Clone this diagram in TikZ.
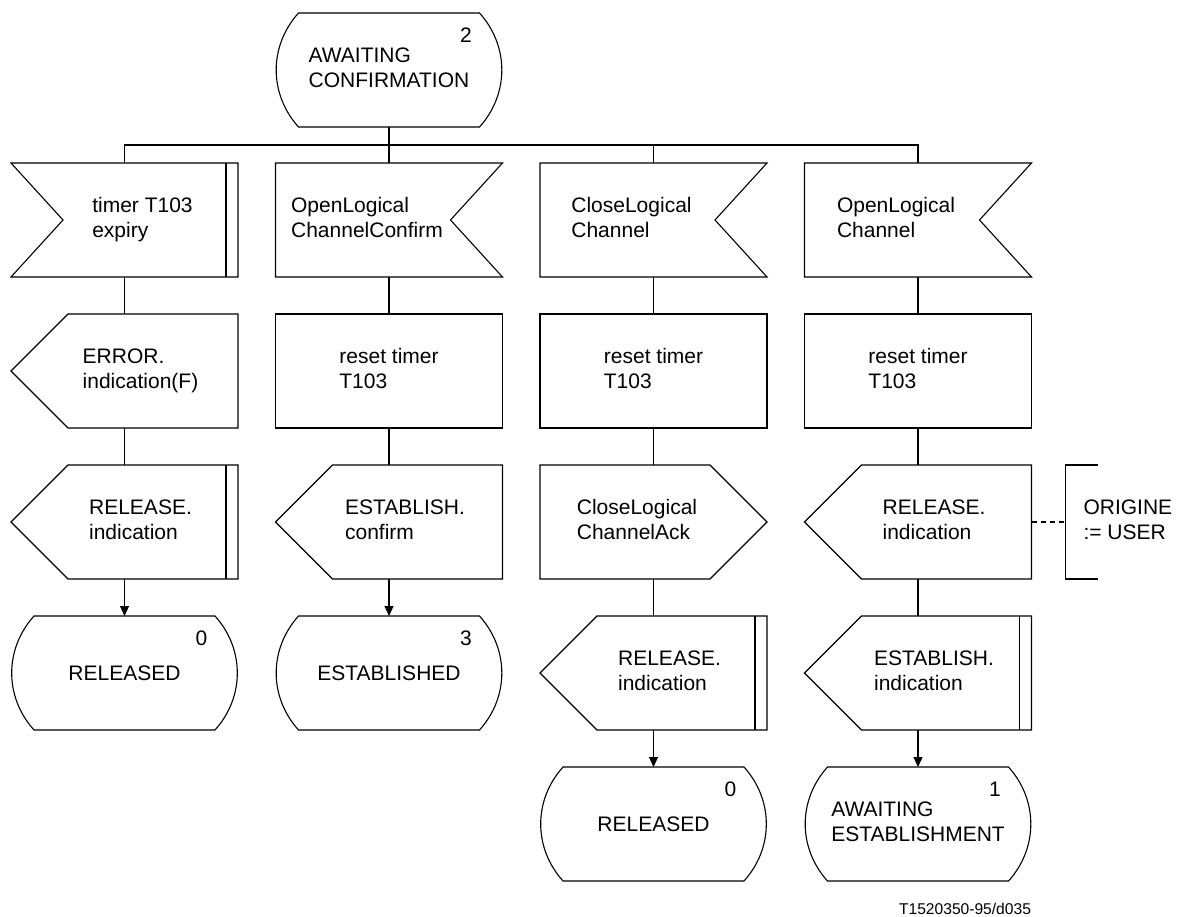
\documentclass[tikz,border=0pt]{standalone}
\usepackage{fontspec}
\setmainfont{Liberation Sans}
\usetikzlibrary{arrows.meta,positioning}

\def\padl{0pt}
\def\padr{0pt}
\newcommand\sdl[1]{\begin{tabular}{@{\hspace{\padl}}l@{\hspace{\padr}}}#1\end{tabular}}

\tikzset{
  box/.style={minimum width=227pt, minimum height=114pt, inner sep=0pt, outer sep=0pt},
  lpad/.code={\def\padl{#1}},
  rpad/.code={\def\padr{#1}},
  task/.style={box, draw},
  inR/.style={box, rpad=44pt, append after command={\pgfextra{
    \draw (\tikzlastnode.north west) -- (\tikzlastnode.north east)
      -- ([xshift=-52pt]\tikzlastnode.east) -- (\tikzlastnode.south east)
      -- (\tikzlastnode.south west) -- cycle;}}},
  inL/.style={box, lpad=36pt, dbl, append after command={\pgfextra{
    \draw (\tikzlastnode.north west) -- (\tikzlastnode.north east)
      -- (\tikzlastnode.south east) -- (\tikzlastnode.south west)
      -- ([xshift=52pt]\tikzlastnode.west) -- cycle;}}},
  outL/.style={box, lpad=32pt, append after command={\pgfextra{
    \draw (\tikzlastnode.west) -- ([xshift=57pt]\tikzlastnode.north west)
      -- (\tikzlastnode.north east) -- (\tikzlastnode.south east)
      -- ([xshift=57pt]\tikzlastnode.south west) -- cycle;}}},
  outR/.style={box, rpad=33pt, append after command={\pgfextra{
    \draw (\tikzlastnode.east) -- ([xshift=-57pt]\tikzlastnode.north east)
      -- (\tikzlastnode.north west) -- (\tikzlastnode.south west)
      -- ([xshift=-57pt]\tikzlastnode.south east) -- cycle;}}},
  dbl/.style={append after command={\pgfextra{
    \draw ([xshift=-12pt]\tikzlastnode.north east)
      -- ([xshift=-12pt]\tikzlastnode.south east);}}},
  state/.style={box, label={[num]center:#1}, append after command={\pgfextra{
    \draw ([xshift=23pt]\tikzlastnode.north west) -- ([xshift=-23pt]\tikzlastnode.north east)
      to[bend left=42] ([xshift=-23pt]\tikzlastnode.south east)
      -- ([xshift=23pt]\tikzlastnode.south west)
      to[bend left=42] ([xshift=23pt]\tikzlastnode.north west) -- cycle;}}},
  num/.style={xshift=77pt, yshift=35pt},
  note/.style={minimum height=114pt, inner xsep=18pt, inner ysep=0pt, outer sep=0pt,
    append after command={\pgfextra{
    \draw ([xshift=32pt]\tikzlastnode.north west) -- (\tikzlastnode.north west)
      -- (\tikzlastnode.south west) -- ([xshift=32pt]\tikzlastnode.south west);}}},
  foot/.style={inner sep=0pt, font=\fontsize{15.6}{18}\selectfont},
  arw/.style={-{Triangle[length=10pt,width=9pt]}},
}

\begin{document}
\begin{tikzpicture}[x=1pt, y=-1pt, line width=1.1pt,
    font=\fontsize{21}{24.5}\selectfont]
  \useasboundingbox (0,0) rectangle (1182,917);

  % Start state
  \node[state=2] (wait) at (389,70) {\sdl{AWAITING\\CONFIRMATION}};
  \coordinate (bus) at ([yshift=-18pt]wait.south);

  % Inputs
  \node[inR, below=36pt of wait] (olcconf) {\sdl{OpenLogical\\ChannelConfirm}};
  \node[inL, left=37.5pt of olcconf] (timeout) {\sdl{timer T103\\expiry}};
  \node[inR, right=37.5pt of olcconf] (clc) {\sdl{CloseLogical\\Channel}};
  \node[inR, right=37.5pt of clc] (olc) {\sdl{OpenLogical\\Channel}};

  % Column 1
  \node[outL, below=37pt of timeout] (err) {\sdl{ERROR.\\indication(F)}};
  \node[outL, dbl, below=37pt of err] (relind) {\sdl{RELEASE.\\indication}};
  \node[state=0, below=37pt of relind] (released) {RELEASED};

  % Column 2
  \node[task, below=37pt of olcconf] (reset2) {\sdl{reset timer\\T103}};
  \node[outL, below=37pt of reset2] (estconf) {\sdl{ESTABLISH.\\confirm}};
  \node[state=3, below=37pt of estconf] (established) {ESTABLISHED};

  % Column 3
  \node[task, below=37pt of clc] (reset3) {\sdl{reset timer\\T103}};
  \node[outR, below=37pt of reset3] (clcack) {\sdl{CloseLogical\\ChannelAck}};
  \node[outL, dbl, below=37pt of clcack] (relind3) {\sdl{RELEASE.\\indication}};
  \node[state=0, below=37pt of relind3] (released3) {RELEASED};

  % Column 4
  \node[task, below=37pt of olc] (reset4) {\sdl{reset timer\\T103}};
  \node[outL, below=37pt of reset4] (relind4) {\sdl{RELEASE.\\indication}};
  \node[note, right=34pt of relind4] (orig) {\sdl{ORIGINE\\:= USER}};
  \node[outL, dbl, below=37pt of relind4] (estind) {\sdl{ESTABLISH.\\indication}};
  \node[state=1, below=37pt of estind] (awaitest) {\sdl{AWAITING\\ESTABLISHMENT}};

  % Branching
  \draw (wait) -- (bus);
  \draw (timeout.north) |- (bus) -| (olc.north);
  \draw (bus) -- (olcconf);
  \draw (clc.north) -- (clc.north |- bus);

  % Flow lines
  \draw (timeout) -- (err);
  \draw (err) -- (relind);
  \draw[arw] (relind) -- (released);
  \draw (olcconf) -- (reset2);
  \draw (reset2) -- (estconf);
  \draw[arw] (estconf) -- (established);
  \draw (clc) -- (reset3);
  \draw (reset3) -- (clcack);
  \draw (clcack) -- (relind3);
  \draw[arw] (relind3) -- (released3);
  \draw (olc) -- (reset4);
  \draw (reset4) -- (relind4);
  \draw (relind4) -- (estind);
  \draw[arw] (estind) -- (awaitest);

  % Comment
  \draw[dashed, dash pattern=on 5pt off 4pt] (relind4) -- (orig);

  \node[foot, anchor=east] (fig) at ([yshift=-28pt]awaitest.south east) {T1520350-95/d035};
\end{tikzpicture}
\end{document}
